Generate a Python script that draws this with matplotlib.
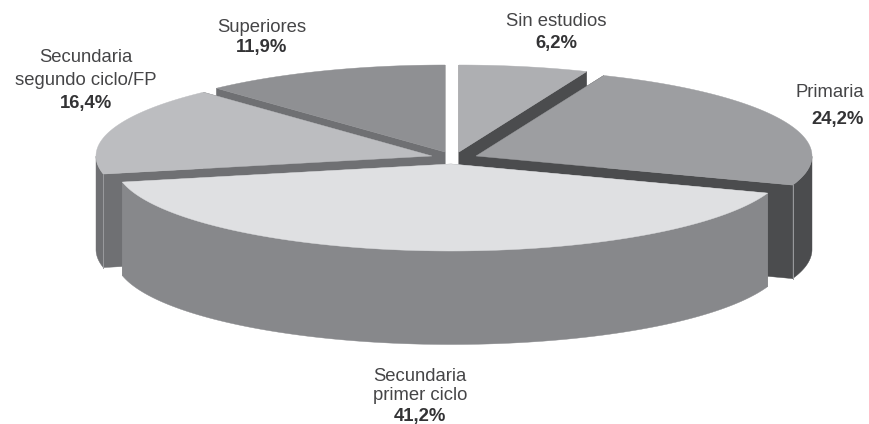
import numpy as np
import matplotlib
matplotlib.use("Agg")
import matplotlib.pyplot as plt
from matplotlib.patches import Polygon

plt.rcParams['font.family'] = ['Liberation Sans', 'DejaVu Sans']

labels = ["Sin estudios", "Primaria", "Secundaria\nprimer ciclo", "Secundaria\nsegundo ciclo/FP", "Superiores"]
values = [6.2, 24.2, 41.2, 16.4, 11.9]

# styling, in pixels of the 869x424 picture
APEX = [(459, 152), (476, 156), (451, 164), (432, 156), (445, 152)]
TOP = ["#aeafb2", "#9d9ea1", "#dfe0e2", "#bcbdc0", "#8f9093"]
WALL = ["#4b4c4e", "#4b4c4e", "#87888b", "#6f7073", "#6f7073"]
LABEL_X = [556, 864, 420, 86, 262]
LABEL_HA = ["center", "right", "center", "center", "center"]
BASELINES = [[26, 48], [97, 124], [381, 400.5, 420.5], [62, 85, 108], [32, 52]]
DRAW_ORDER = [4, 0, 3, 1, 2]
RX, RY, DEPTH = 336, 87, 93.5
TEXT = "#454547"


def rim(apex, theta):
    # point on the slice rim, theta clockwise from 12 o'clock
    return np.column_stack([apex[0] + RX * np.sin(theta), apex[1] - RY * np.cos(theta)])


fig = plt.figure(figsize=(8.69, 4.24), dpi=100)
ax = fig.add_axes([0, 0, 1, 1])
ax.set_xlim(0, 869); ax.set_ylim(424, 0); ax.axis("off")

edges = np.concatenate([[0], np.cumsum(values)]) / sum(values) * 2 * np.pi
down = np.array([0, DEPTH])

for i in DRAW_ORDER:
    apex = np.array(APEX[i], float)
    theta = np.linspace(edges[i], edges[i + 1], 240)
    arc = rim(apex, theta)
    # radial faces and the front part of the outer face, then the top on them
    for end in (arc[0], arc[-1]):
        ax.add_patch(Polygon([apex, end, end + down, apex + down], fc=WALL[i], ec=WALL[i], lw=0.3))
    front = arc[np.cos(theta) <= 0]
    if len(front):
        ax.add_patch(Polygon(np.vstack([front, (front + down)[::-1]]), fc=WALL[i], ec=WALL[i], lw=0.3))
    ax.add_patch(Polygon(np.vstack([apex, arc]), fc=TOP[i], ec=TOP[i], lw=0.3))
    if i in (1, 3):
        corner = arc[-1] if i == 1 else arc[0]
        ax.plot([corner[0]] * 2, [corner[1], corner[1] + DEPTH], color="#9a9b9e", lw=0.7)

for lab, val, x, ha, ys in zip(labels, values, LABEL_X, LABEL_HA, BASELINES):
    rows = lab.split("\n")
    for row, y in zip(rows, ys):
        ax.text(x, y, row, ha=ha, va="baseline", fontsize=13.3, color=TEXT)
    ax.text(x, ys[-1], f"{val:.1f}%".replace(".", ","), ha=ha, va="baseline",
            fontsize=13.3, fontweight="bold", color="#333335")

fig.savefig("out.png", dpi=100)
